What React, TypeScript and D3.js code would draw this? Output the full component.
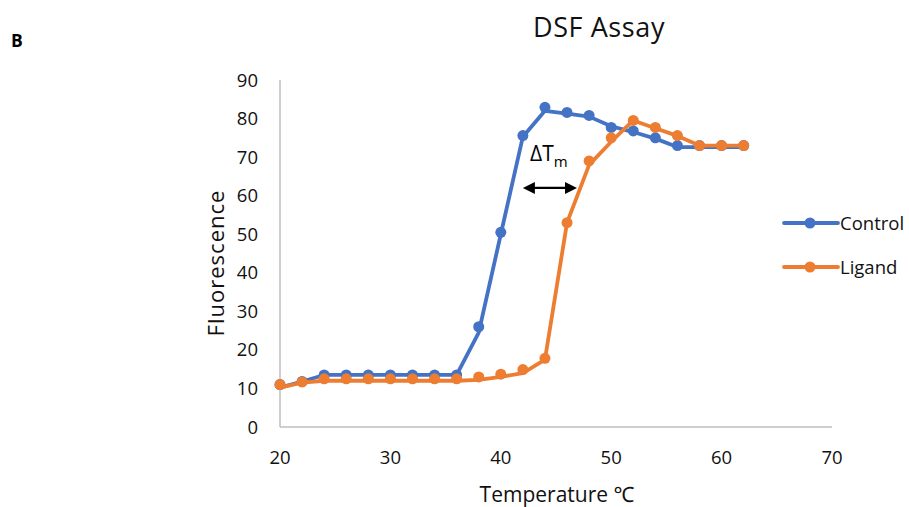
import React from "react";
import * as d3 from "d3";

const temps = [20, 22, 24, 26, 28, 30, 32, 34, 36, 38, 40, 42, 44, 46, 48, 50, 52, 54, 56, 58, 60, 62];
const controlMarkers = [11, 11.8, 13.5, 13.5, 13.5, 13.5, 13.5, 13.5, 13.5, 26, 50.5, 75.6, 82.9, 81.6, 80.8, 77.7, 76.8, 75, 73, 73, 73, 73];
const controlLine = [10.2, 11.8, 13.5, 13.5, 13.5, 13.5, 13.5, 13.5, 13.5, 24.5, 50, 75.3, 82, 81.3, 80.5, 78, 76.5, 74.8, 72.6, 72.6, 72.6, 72.6];
const ligandMarkers = [11, 11.7, 12.5, 12.5, 12.5, 12.5, 12.5, 12.5, 12.5, 13, 13.7, 14.9, 17.8, 53, 69, 75, 79.5, 77.7, 75.6, 73, 73, 73];
const ligandLine = [10.2, 11.5, 12, 12, 12, 12, 12, 12, 12, 12.2, 13, 14, 17.5, 53, 68, 74, 79.5, 77.5, 75.5, 73, 73, 73];
const xTicks = [20, 30, 40, 50, 60, 70];
const yTicks = [0, 10, 20, 30, 40, 50, 60, 70, 80, 90];
const seriesNames = ["Control", "Ligand"];
const colors = ["#4472C4", "#ED7D31"];
const arrowRange = [42.0, 46.9];
const arrowValue = 62;

const FONT = "'Open Sans', 'Noto Sans', sans-serif";

export default function App() {
  const W = 909, H = 507;
  const x = d3.scaleLinear().domain([20, 70]).range([280, 832]);
  const y = d3.scaleLinear().domain([0, 90]).range([427, 80]);
  const line = d3.line<[number, number]>().x(d => x(d[0])).y(d => y(d[1]));
  const series = [
    { name: seriesNames[0], color: colors[0], line: controlLine, markers: controlMarkers },
    { name: seriesNames[1], color: colors[1], line: ligandLine, markers: ligandMarkers },
  ];
  const ax0 = x(arrowRange[0]), ax1 = x(arrowRange[1]), ay = y(arrowValue);
  return (
    <svg width={W} height={H} style={{ position: "absolute", left: 0, top: 0 }} fontFamily={FONT}>
      <rect width={W} height={H} fill="#fff" />
      <text x={11} y={47} fontSize={17.5} fontWeight="bold" fill="#000">B</text>
      <text x={599} y={37} fontSize={27} letterSpacing={0.6} textAnchor="middle" fill="#111">DSF Assay</text>
      {/* axes */}
      <line x1={x(20)} x2={x(20)} y1={y(90)} y2={y(0)} stroke="#BFBFBF" strokeWidth={1.5} />
      <line x1={x(20)} x2={x(70)} y1={y(0)} y2={y(0)} stroke="#BFBFBF" strokeWidth={1.5} />
      {yTicks.map(t => (
        <text key={t} x={258} y={y(t) + 6.5} fontSize={18.5} textAnchor="end" fill="#111">{t}</text>
      ))}
      {xTicks.map(t => (
        <text key={t} x={x(t)} y={464} fontSize={18.5} textAnchor="middle" fill="#111">{t}</text>
      ))}
      <text x={557} y={502} fontSize={21} textAnchor="middle" fill="#111">Temperature ℃</text>
      <text transform={`translate(224,263) rotate(-90)`} fontSize={22} letterSpacing={1} textAnchor="middle" fill="#111">Fluorescence</text>
      {/* series */}
      {series.map(s => (
        <g key={s.name}>
          <path d={line(temps.map((t, i) => [t, s.line[i]]))!} fill="none" stroke={s.color} strokeWidth={3.8} strokeLinejoin="round" strokeLinecap="round" />
          {temps.map((t, i) => (
            <circle key={i} cx={x(t)} cy={y(s.markers[i])} r={5.5} fill={s.color} />
          ))}
        </g>
      ))}
      {/* delta Tm */}
      <text x={530} y={161} fontSize={21} fill="#000">ΔT<tspan fontSize={15} dy={6}>m</tspan></text>
      <line x1={ax0 + 8} x2={ax1 - 8} y1={ay} y2={ay} stroke="#000" strokeWidth={2.2} />
      <path d={`M${ax0},${ay} L${ax0 + 12},${ay - 6} L${ax0 + 12},${ay + 6} Z`} fill="#000" />
      <path d={`M${ax1},${ay} L${ax1 - 12},${ay - 6} L${ax1 - 12},${ay + 6} Z`} fill="#000" />
      {/* legend */}
      {series.map((s, i) => (
        <g key={s.name} transform={`translate(0, ${223 + i * 44})`}>
          <line x1={784} x2={838} y1={0} y2={0} stroke={s.color} strokeWidth={3.8} strokeLinecap="round" />
          <circle cx={810} cy={0} r={5.5} fill={s.color} />
          <text x={840} y={6.5} fontSize={18.5} fill="#111">{s.name}</text>
        </g>
      ))}
    </svg>
  );
}
